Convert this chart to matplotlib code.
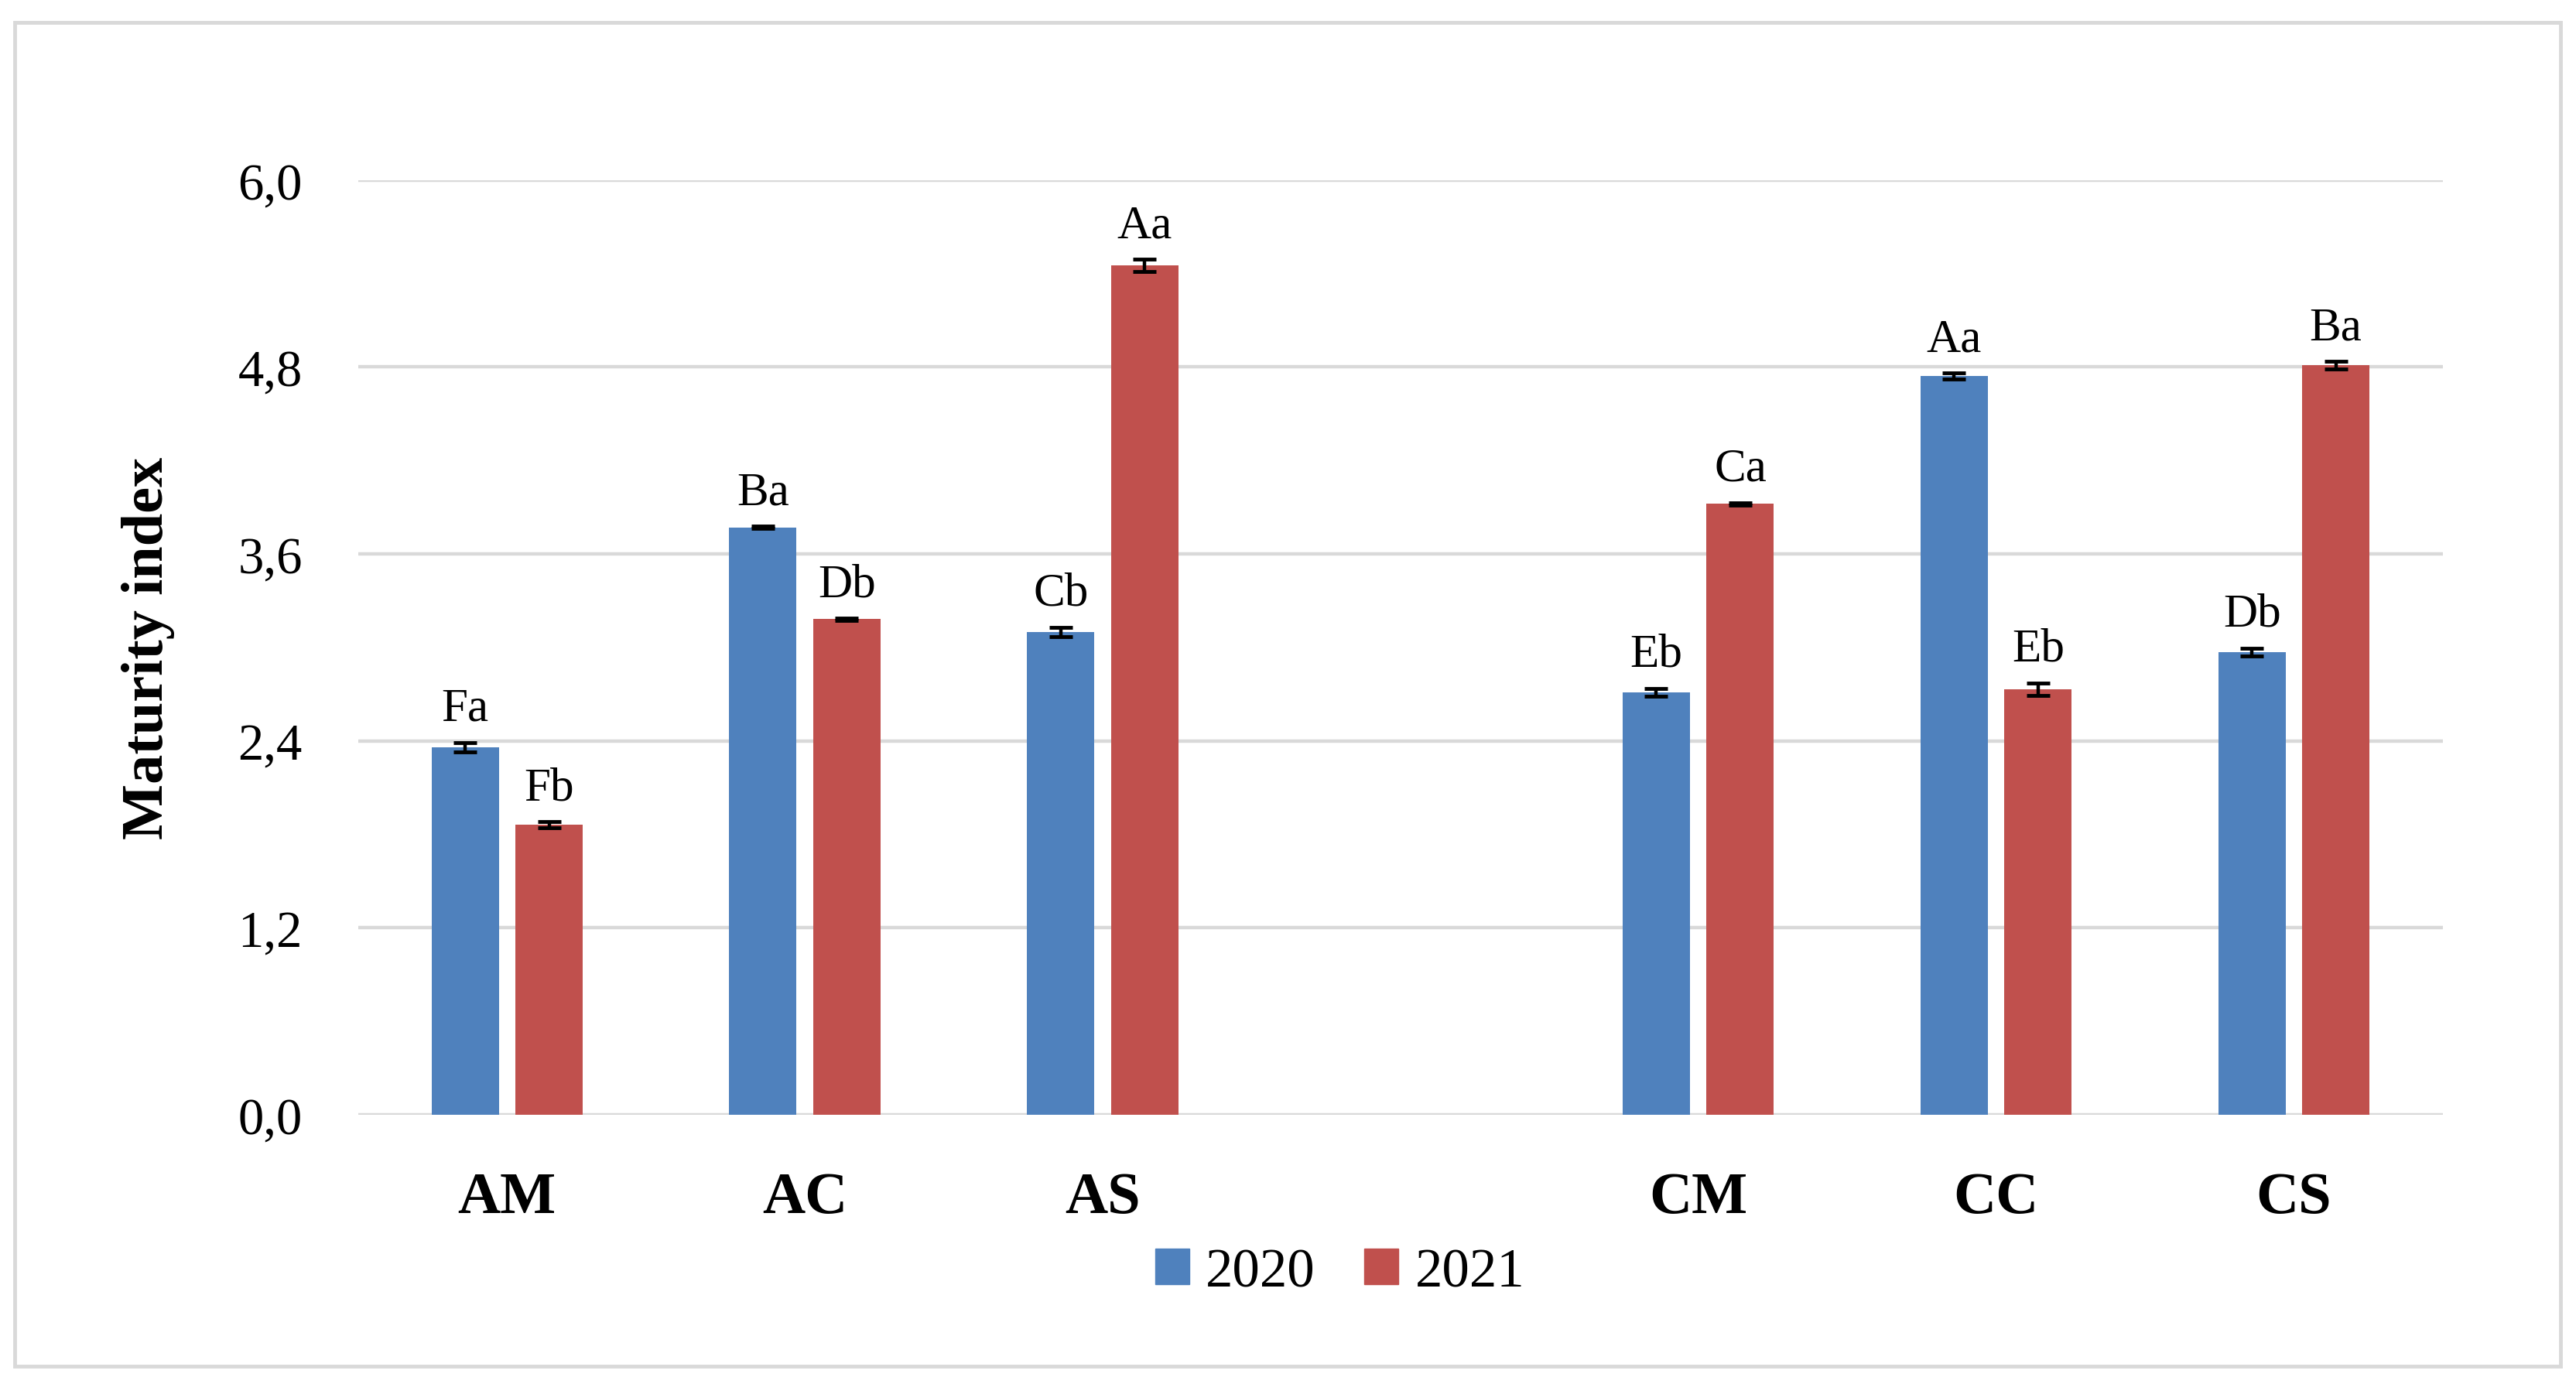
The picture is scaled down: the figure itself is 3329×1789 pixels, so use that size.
import matplotlib
matplotlib.use("Agg")
import matplotlib.pyplot as plt
import numpy as np
from matplotlib.patches import Rectangle, Patch

plt.rcParams['font.family'] = ['Liberation Serif', 'DejaVu Serif']

categories = ['AM', 'AC', 'AS', 'CM', 'CC', 'CS']
years = ['2020', '2021']
mi_2020 = [2.36, 3.77, 3.10, 2.71, 4.74, 2.97]
mi_2021 = [1.86, 3.18, 5.45, 3.92, 2.73, 4.81]
err_2020 = [0.03, 0.006, 0.03, 0.025, 0.02, 0.025]
err_2021 = [0.02, 0.006, 0.04, 0.008, 0.04, 0.025]
letters_2020 = ['Fa', 'Ba', 'Cb', 'Eb', 'Aa', 'Db']
letters_2021 = ['Fb', 'Db', 'Aa', 'Ca', 'Eb', 'Ba']
yticks = [0.0, 1.2, 2.4, 3.6, 4.8, 6.0]

blue = '#4F81BD'
red = '#C0504D'
grid_c = '#D9D9D9'

fig = plt.figure(figsize=(33.3, 17.9), dpi=100)
ax = fig.add_axes([0.139, 0.1945, 0.809, 0.675])

# empty slot between the two groups of treatments
x = np.arange(len(categories)) + (np.arange(len(categories)) >= 3)
w = 0.226
off = 0.141

for vals, errs, letters, col, sgn in [(mi_2020, err_2020, letters_2020, blue, -1),
                                      (mi_2021, err_2021, letters_2021, red, 1)]:
    xs = x + sgn * off
    ax.bar(xs, vals, width=w, color=col, zorder=3)
    ax.errorbar(xs, vals, yerr=errs, fmt='none', ecolor='black',
                elinewidth=3.2, capsize=10.5, capthick=3.5, zorder=4)
    for xi, v, e, t in zip(xs, vals, errs, letters):
        ax.annotate(t, (xi, v + e), xytext=(0, 21), textcoords='offset points',
                    ha='center', va='baseline', fontsize=44, zorder=5)

ax.set_xlim(-0.5, 6.5)
ax.set_ylim(0, 6.0)
ax.set_yticks(yticks)
ax.set_yticklabels([f'{t:.1f}'.replace('.', ',') for t in yticks], fontsize=48)
ax.set_xticks(x)
ax.set_xticklabels(categories, fontsize=55, fontweight='bold')
ax.tick_params(axis='y', length=0, pad=52)
ax.tick_params(axis='x', length=0, pad=53)
ax.yaxis.grid(True, color=grid_c, linewidth=3.2, zorder=0)
ax.set_axisbelow(True)
for s in ax.spines.values():
    s.set_visible(False)

fig.text(0.0574, 0.532, 'Maturity index', rotation=90, ha='center', va='center',
         fontsize=55, fontweight='bold')

handles = [Patch(color=blue), Patch(color=red)]
fig.legend(handles, years, loc='center', bbox_to_anchor=(0.52, 0.0807), ncol=2,
           frameon=False, fontsize=51, handlelength=0.62, handleheight=0.62,
           handletextpad=0.3, columnspacing=0.9)

fig.patches.append(Rectangle((0.0057, 0.013), 0.9879, 0.970, transform=fig.transFigure,
                             fill=False, edgecolor=grid_c, linewidth=3.5))

fig.savefig('out.png', dpi=100)
